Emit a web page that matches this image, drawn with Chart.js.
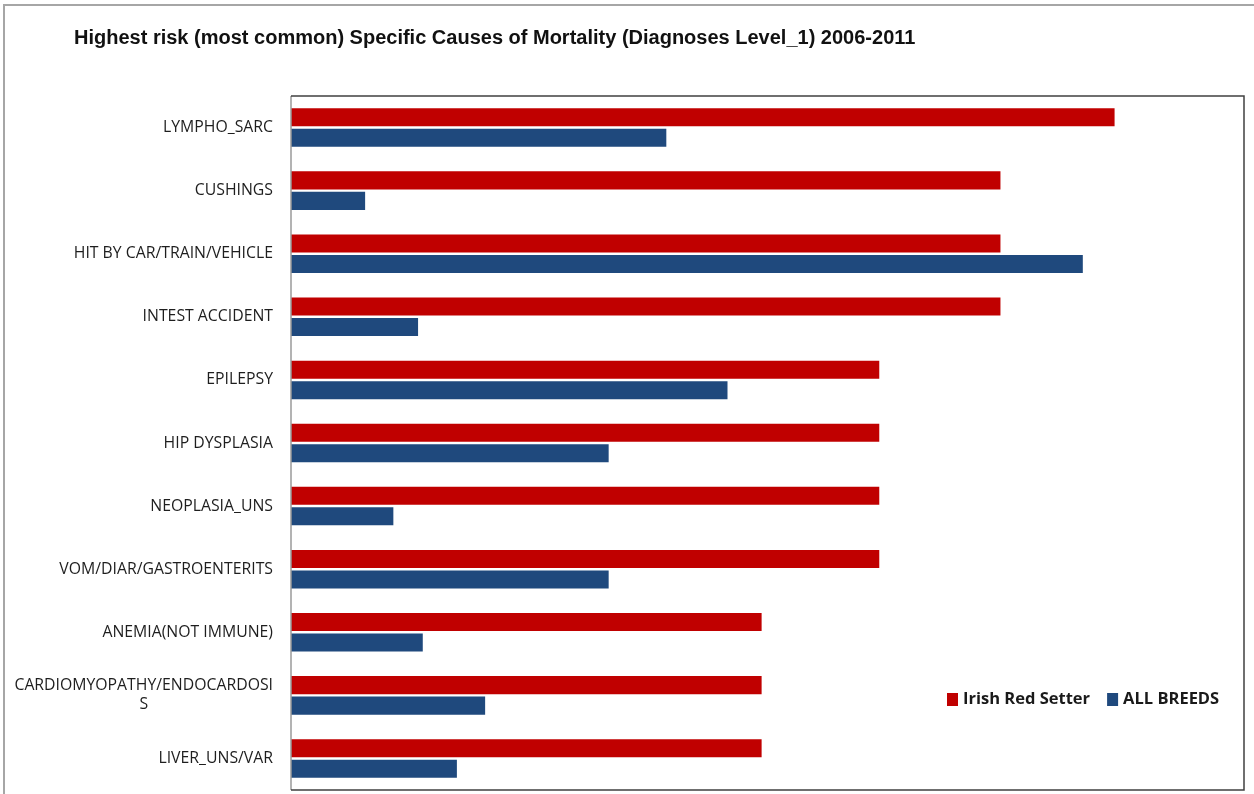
<!DOCTYPE html>
<html>
<head>
<meta charset="utf-8">
<script src="https://cdn.jsdelivr.net/npm/chart.js@4/dist/chart.umd.min.js"></script>
<style>
  html, body { margin: 0; padding: 0; background: #fff; }
  #wrap { position: relative; width: 1254px; height: 794px; }
</style>
</head>
<body>
<div id="wrap"><canvas id="mortalityBars" width="1254" height="794"></canvas></div>
<script>
// categories, top to bottom
const causes = [
  ["LYMPHO_SARC"],
  ["CUSHINGS"],
  ["HIT BY CAR/TRAIN/VEHICLE"],
  ["INTEST ACCIDENT"],
  ["EPILEPSY"],
  ["HIP DYSPLASIA"],
  ["NEOPLASIA_UNS"],
  ["VOM/DIAR/GASTROENTERITS"],
  ["ANEMIA(NOT IMMUNE)"],
  ["CARDIOMYOPATHY/ENDOCARDOSI", "S"],
  ["LIVER_UNS/VAR"]
];
const irishRedSetter = [7, 6.03, 6.03, 6.03, 5, 5, 5, 5, 4, 4, 4];
const allBreeds = [3.19, 0.63, 6.73, 1.08, 3.71, 2.70, 0.87, 2.70, 1.12, 1.65, 1.41];
const seriesNames = ["Irish Red Setter", "ALL BREEDS"];
const seriesColors = ["#C00000", "#1F497D"];

const labelFont = "15.8px 'Open Sans', sans-serif";

// frame around the whole picture + box around plot area
const frames = {
  id: "frames",
  afterDraw(chart) {
    const { ctx, chartArea: a } = chart;
    ctx.save();
    ctx.strokeStyle = "#a6a6a6";
    ctx.lineWidth = 2;
    ctx.beginPath();
    ctx.moveTo(4, 794);
    ctx.lineTo(4, 5);
    ctx.lineTo(1254, 5);
    ctx.stroke();
    ctx.lineWidth = 1.5;
    ctx.strokeStyle = "#9a9a9a";
    ctx.beginPath();
    ctx.moveTo(a.left, a.top);
    ctx.lineTo(a.left, a.bottom);
    ctx.stroke();
    ctx.strokeStyle = "#404040";
    ctx.beginPath();
    ctx.moveTo(a.left, a.top);
    ctx.lineTo(a.right, a.top);
    ctx.lineTo(a.right, a.bottom);
    ctx.lineTo(a.left, a.bottom);
    ctx.stroke();
    ctx.restore();
  }
};

// category labels: right aligned, wrapped lines centred under the first
const causeLabels = {
  id: "causeLabels",
  afterDraw(chart) {
    const { ctx } = chart;
    const y = chart.scales.y;
    const xRight = chart.chartArea.left - 18;
    ctx.save();
    ctx.font = labelFont;
    ctx.fillStyle = "#1e1e1e";
    ctx.textBaseline = "middle";
    causes.forEach((lines, i) => {
      const yc = y.getPixelForTick(i);
      const lh = 19;
      const y0 = yc - (lines.length - 1) * lh / 2;
      const w0 = ctx.measureText(lines[0]).width;
      lines.forEach((txt, j) => {
        if (j === 0) {
          ctx.textAlign = "right";
          ctx.fillText(txt, xRight, y0);
        } else {
          ctx.textAlign = "center";
          ctx.fillText(txt, xRight - w0 / 2, y0 + j * lh);
        }
      });
    });
    ctx.restore();
  }
};

// legend inside the plot, bottom right
const innerLegend = {
  id: "innerLegend",
  afterDraw(chart) {
    const { ctx } = chart;
    let x = 947;
    const yc = 699;
    ctx.save();
    ctx.font = "bold 16.5px 'Open Sans', sans-serif";
    ctx.textBaseline = "middle";
    ctx.textAlign = "left";
    chart.data.datasets.forEach((ds) => {
      ctx.fillStyle = ds.backgroundColor;
      ctx.fillRect(x, yc - 6, 11, 13);
      ctx.fillStyle = "#1a1a1a";
      ctx.fillText(ds.label, x + 16, yc);
      x += 16 + ctx.measureText(ds.label).width + 17;
    });
    ctx.restore();
  }
};

const ctx = document.getElementById("mortalityBars");
new Chart(ctx, {
  type: "bar",
  data: {
    labels: causes.map((c) => c.join("")),
    datasets: [
      {
        label: seriesNames[0],
        data: irishRedSetter,
        backgroundColor: seriesColors[0],
        categoryPercentage: 0.65,
        barPercentage: 0.88
      },
      {
        label: seriesNames[1],
        data: allBreeds,
        backgroundColor: seriesColors[1],
        categoryPercentage: 0.65,
        barPercentage: 0.88
      }
    ]
  },
  options: {
    indexAxis: "y",
    responsive: false,
    animation: false,
    layout: { padding: { left: 74, right: 10, top: 0, bottom: 4 } },
    scales: {
      x: { display: false, min: 0, max: 8.1 },
      y: {
        grid: { display: false },
        border: { display: false },
        ticks: { display: false },
        afterFit(scale) { scale.width = 217; }
      }
    },
    plugins: {
      legend: { display: false },
      tooltip: { enabled: false },
      title: {
        display: true,
        text: "Highest risk (most common) Specific Causes of Mortality (Diagnoses Level_1) 2006-2011",
        align: "start",
        color: "#111",
        font: { family: "'Liberation Sans', Arial, sans-serif", size: 20, weight: "bold", lineHeight: 1.2 },
        padding: { top: 26, bottom: 46 }
      }
    }
  },
  plugins: [frames, causeLabels, innerLegend]
});
</script>
</body>
</html>
